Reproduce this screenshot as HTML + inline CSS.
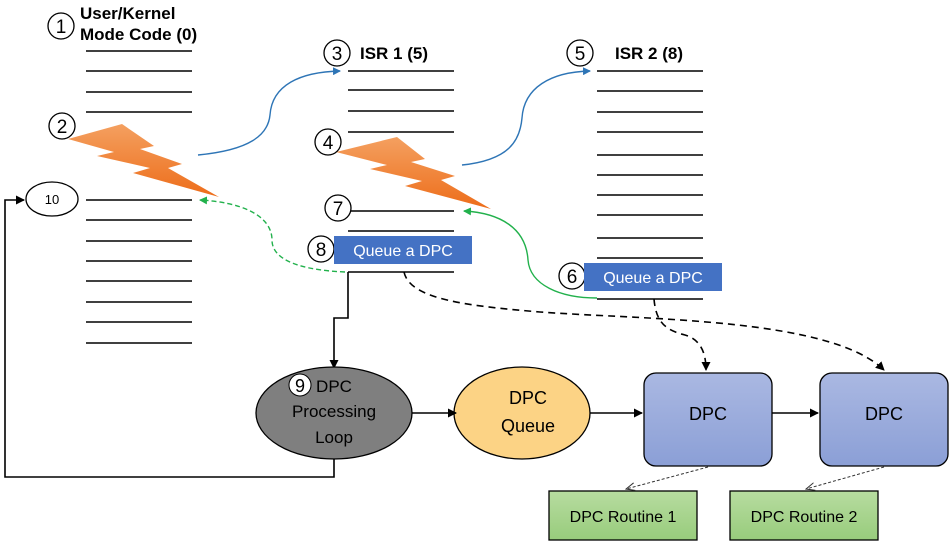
<!DOCTYPE html>
<html><head><meta charset="utf-8"><style>
body{margin:0;background:#fff;}
svg{display:block;font-family:"Liberation Sans",sans-serif;}
</style></head><body>
<svg width="950" height="542" viewBox="0 0 950 542" xmlns="http://www.w3.org/2000/svg">
<defs>
<marker id="ab" markerWidth="8" markerHeight="8" refX="7" refY="4" orient="auto" markerUnits="userSpaceOnUse"><path d="M0,0 L8,4 L0,8 z" fill="#2e75b6"/></marker>
<marker id="ag" markerWidth="8" markerHeight="8" refX="7" refY="4" orient="auto" markerUnits="userSpaceOnUse"><path d="M0,0 L8,4 L0,8 z" fill="#22b14c"/></marker>
<marker id="ak" markerWidth="9" markerHeight="9" refX="8" refY="4.5" orient="auto" markerUnits="userSpaceOnUse"><path d="M0,0 L9,4.5 L0,9 z" fill="#000"/></marker>
<marker id="ako" markerWidth="10" markerHeight="10" refX="9" refY="5" orient="auto" markerUnits="userSpaceOnUse"><path d="M0,1 L9,5 L0,9" fill="none" stroke="#333" stroke-width="1"/></marker>
<linearGradient id="og" x1="0" y1="0" x2="0" y2="1"><stop offset="0" stop-color="#f4a060"/><stop offset="1" stop-color="#ed6d1a"/></linearGradient>
<linearGradient id="bg" x1="0" y1="0" x2="0" y2="1"><stop offset="0" stop-color="#aab8e2"/><stop offset="1" stop-color="#8b9fd6"/></linearGradient>
<linearGradient id="gg" x1="0" y1="0" x2="0" y2="1"><stop offset="0" stop-color="#b7dca0"/><stop offset="1" stop-color="#98cc7c"/></linearGradient>
</defs>
<g stroke="#000" stroke-width="1.5">
<line x1="86" y1="51" x2="192" y2="51"/><line x1="86" y1="71" x2="192" y2="71"/><line x1="86" y1="92" x2="192" y2="92"/><line x1="86" y1="112" x2="192" y2="112"/>
<line x1="86" y1="200" x2="192" y2="200"/><line x1="86" y1="220" x2="192" y2="220"/><line x1="86" y1="241" x2="192" y2="241"/><line x1="86" y1="261" x2="192" y2="261"/><line x1="86" y1="281" x2="192" y2="281"/><line x1="86" y1="302" x2="192" y2="302"/><line x1="86" y1="322" x2="192" y2="322"/><line x1="86" y1="343" x2="192" y2="343"/>
<line x1="348" y1="71" x2="454" y2="71"/><line x1="348" y1="90" x2="454" y2="90"/><line x1="348" y1="111" x2="454" y2="111"/><line x1="348" y1="132" x2="454" y2="132"/><line x1="348" y1="211" x2="454" y2="211"/><line x1="348" y1="231" x2="454" y2="231"/><line x1="348" y1="272" x2="454" y2="272"/>
<line x1="597" y1="71" x2="703" y2="71"/><line x1="597" y1="91" x2="703" y2="91"/><line x1="597" y1="112" x2="703" y2="112"/><line x1="597" y1="132" x2="703" y2="132"/><line x1="597" y1="155" x2="703" y2="155"/><line x1="597" y1="175" x2="703" y2="175"/><line x1="597" y1="195" x2="703" y2="195"/><line x1="597" y1="215" x2="703" y2="215"/><line x1="597" y1="238" x2="703" y2="238"/><line x1="597" y1="258" x2="703" y2="258"/><line x1="597" y1="299" x2="703" y2="299"/>
</g>
<!-- bolts -->
<path d="M68,139 L122,124 L154,146 L140,149 L182,164 L168,168 L219,197 L133,173 L150,168 L97,156 L114,152 Z" fill="url(#og)"/>
<path d="M336,152 L397,137 L425,159 L411,162 L455,176 L441,180 L491,209 L405,186 L422,181 L370,169 L387,165 Z" fill="url(#og)"/>
<!-- titles -->
<g font-weight="bold" font-size="17" fill="#000">
<text x="80" y="19">User/Kernel</text><text x="80" y="40">Mode Code (0)</text>
<text x="360" y="59">ISR 1 (5)</text><text x="615" y="59">ISR 2 (8)</text>
</g>
<!-- circles -->
<g fill="#fff" stroke="#000" stroke-width="1.3">
<circle cx="61" cy="26" r="13"/><circle cx="62" cy="126" r="13"/><circle cx="337" cy="53" r="13"/><circle cx="328" cy="142" r="13"/><circle cx="580" cy="53" r="13"/><circle cx="572" cy="276" r="13"/><circle cx="338" cy="208" r="13"/><circle cx="321" cy="249" r="13"/>
<ellipse cx="52" cy="199" rx="26" ry="17"/>
</g>
<g font-size="19" text-anchor="middle" fill="#000">
<text x="61" y="33">1</text><text x="62" y="133">2</text><text x="337" y="60">3</text><text x="328" y="149">4</text><text x="580" y="60">5</text><text x="572" y="283">6</text><text x="338" y="215">7</text><text x="321" y="256">8</text>
<text x="52" y="204" font-size="13">10</text>
</g>
<!-- queue boxes -->
<rect x="334" y="236" width="138" height="28" fill="#4472c4"/>
<text x="403" y="256" font-size="16" fill="#fff" text-anchor="middle">Queue a DPC</text>
<rect x="584" y="263" width="138" height="28" fill="#4472c4"/>
<text x="653" y="283" font-size="16" fill="#fff" text-anchor="middle">Queue a DPC</text>
<!-- blue curves -->
<path d="M198,155 C250,150 268,135 270,115 C272,85 300,72 340,71" fill="none" stroke="#2e75b6" stroke-width="1.4" marker-end="url(#ab)"/>
<path d="M462,165 C510,160 520,140 522,118 C524,88 550,72 590,71" fill="none" stroke="#2e75b6" stroke-width="1.4" marker-end="url(#ab)"/>
<!-- green -->
<path d="M345,272 C300,270 272,260 272,240 C272,215 240,202 200,200" fill="none" stroke="#22b14c" stroke-width="1.4" stroke-dasharray="5,3" marker-end="url(#ag)"/>
<path d="M597,298 C560,298 530,285 528,260 C526,228 500,213 464,211" fill="none" stroke="#22b14c" stroke-width="1.4" marker-end="url(#ag)"/>
<!-- black connectors -->
<path d="M348,272 L348,318 L334,318 L334,368" fill="none" stroke="#000" stroke-width="1.6" marker-end="url(#ak)"/>
<path d="M334,459 L334,477 L5,477 L5,200 L24,200" fill="none" stroke="#000" stroke-width="1.6" marker-end="url(#ak)"/>
<path d="M404,272 C410,300 470,306 540,312 C650,320 830,318 884,370" fill="none" stroke="#000" stroke-width="1.6" stroke-dasharray="7,5" marker-end="url(#ak)"/>
<path d="M654,299 C656,322 665,330 685,335 C702,340 706,355 706,370" fill="none" stroke="#000" stroke-width="1.6" stroke-dasharray="7,5" marker-end="url(#ak)"/>
<!-- bottom shapes -->
<ellipse cx="334" cy="413" rx="78" ry="46" fill="#7f7f7f" stroke="#000" stroke-width="1.3"/>
<circle cx="300" cy="385" r="11" fill="#fff" stroke="#000"/>
<text x="300" y="392" font-size="18" text-anchor="middle">9</text>
<g font-size="17" fill="#000" text-anchor="middle">
<text x="334" y="392">  DPC</text><text x="334" y="417">Processing</text><text x="334" y="443">Loop</text>
</g>
<ellipse cx="522" cy="413" rx="68" ry="46" fill="#fcd385" stroke="#000" stroke-width="1.3"/>
<text x="528" y="404" font-size="18" text-anchor="middle">DPC</text><text x="528" y="432" font-size="18" text-anchor="middle">Queue</text>
<rect x="644" y="373" width="128" height="93" rx="12" fill="url(#bg)" stroke="#000" stroke-width="1.3"/>
<text x="708" y="420" font-size="18" text-anchor="middle">DPC</text>
<rect x="820" y="373" width="128" height="93" rx="12" fill="url(#bg)" stroke="#000" stroke-width="1.3"/>
<text x="884" y="420" font-size="18" text-anchor="middle">DPC</text>
<line x1="412" y1="413" x2="456" y2="413" stroke="#000" stroke-width="1.6" marker-end="url(#ak)"/>
<line x1="590" y1="413" x2="642" y2="413" stroke="#000" stroke-width="1.6" marker-end="url(#ak)"/>
<line x1="772" y1="413" x2="818" y2="413" stroke="#000" stroke-width="1.6" marker-end="url(#ak)"/>
<rect x="549" y="491" width="148" height="49" fill="url(#gg)" stroke="#000" stroke-width="1.3"/>
<text x="623" y="522" font-size="16" text-anchor="middle">DPC Routine 1</text>
<rect x="730" y="491" width="148" height="49" fill="url(#gg)" stroke="#000" stroke-width="1.3"/>
<text x="804" y="522" font-size="16" text-anchor="middle">DPC Routine 2</text>
<line x1="708" y1="467" x2="626" y2="489" stroke="#333" stroke-width="1" stroke-dasharray="3,2" marker-end="url(#ako)"/>
<line x1="884" y1="467" x2="806" y2="489" stroke="#333" stroke-width="1" stroke-dasharray="3,2" marker-end="url(#ako)"/>
</svg>
</body></html>
